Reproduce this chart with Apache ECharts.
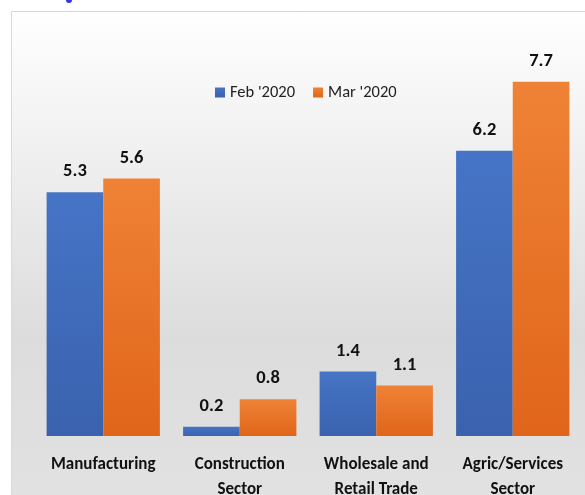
<!DOCTYPE html>
<html>
<head>
<meta charset="utf-8">
<script src="https://cdn.jsdelivr.net/npm/echarts@6/dist/echarts.min.js"></script>
<style>
  html, body { margin: 0; padding: 0; background: #fff; }
  #chart { width: 585px; height: 495px; }
</style>
</head>
<body>
<div id="chart"></div>
<script>
  // data
  const categories = ['Manufacturing', 'Construction\nSector', 'Wholesale and\nRetail Trade', 'Agric/Services\nSector']
  const febValues = [5.3, 0.2, 1.4, 6.2]
  const marValues = [5.6, 0.8, 1.1, 7.7]
  const seriesNames = ["Feb '2020", "Mar '2020"]

  const fontFamily = 'Carlito, Lato, "Open Sans", sans-serif'

  function grad(top, bottom) {
    return new echarts.graphic.LinearGradient(0, 0, 0, 1, [
      { offset: 0, color: top },
      { offset: 1, color: bottom }
    ])
  }

  let charts = echarts.init(document.getElementById('chart'))
  let option = {
    animation: false,
    graphic: [
      {
        type: 'rect',
        z: -10,
        shape: { x: 11.5, y: 11.5, width: 600, height: 500 },
        style: {
          fill: new echarts.graphic.LinearGradient(0, 0, 0, 1, [
            { offset: 0, color: '#ffffff' },
            { offset: 0.65, color: '#dcdcdc' },
            { offset: 1, color: '#e2e2e2' }
          ]),
          stroke: '#d9d9d9',
          lineWidth: 1
        }
      },
      {
        type: 'circle',
        shape: { cx: 69, cy: 0, r: 3 },
        style: { fill: '#3333ee' }
      }
    ],
    legend: {
      left: 210,
      top: 79,
      itemWidth: 10,
      itemHeight: 10,
      itemGap: 18,
      icon: 'rect',
      textStyle: {
        fontFamily: fontFamily,
        fontSize: 16.5,
        color: '#222'
      },
      data: seriesNames
    },
    grid: {
      left: 35,
      right: 4,
      top: 68,
      bottom: 59,
      outerBoundsMode: 'none'
    },
    xAxis: {
      type: 'category',
      data: categories,
      axisTick: { show: false },
      axisLine: { show: false },
      axisLabel: {
        interval: 0,
        margin: 16,
        fontFamily: fontFamily,
        fontSize: 17,
        fontWeight: 'bold',
        lineHeight: 25,
        color: '#111'
      }
    },
    yAxis: {
      type: 'value',
      min: 0,
      max: 8,
      show: false
    },
    series: [
      {
        name: seriesNames[0],
        type: 'bar',
        barGap: '0%',
        barCategoryGap: '17%',
        itemStyle: { color: grad('#4674c6', '#3a62ae') },
        label: {
          show: true,
          position: 'top',
          distance: 11,
          fontFamily: fontFamily,
          fontSize: 18.5,
          fontWeight: 'bold',
          color: '#111'
        },
        data: febValues
      },
      {
        name: seriesNames[1],
        type: 'bar',
        itemStyle: { color: grad('#ef8236', '#e0651a') },
        label: {
          show: true,
          position: 'top',
          distance: 11,
          fontFamily: fontFamily,
          fontSize: 18.5,
          fontWeight: 'bold',
          color: '#111'
        },
        data: marValues
      }
    ]
  }
  charts.setOption(option)
  window.addEventListener('resize', () => {
    charts.resize()
  })
</script>
</body>
</html>
